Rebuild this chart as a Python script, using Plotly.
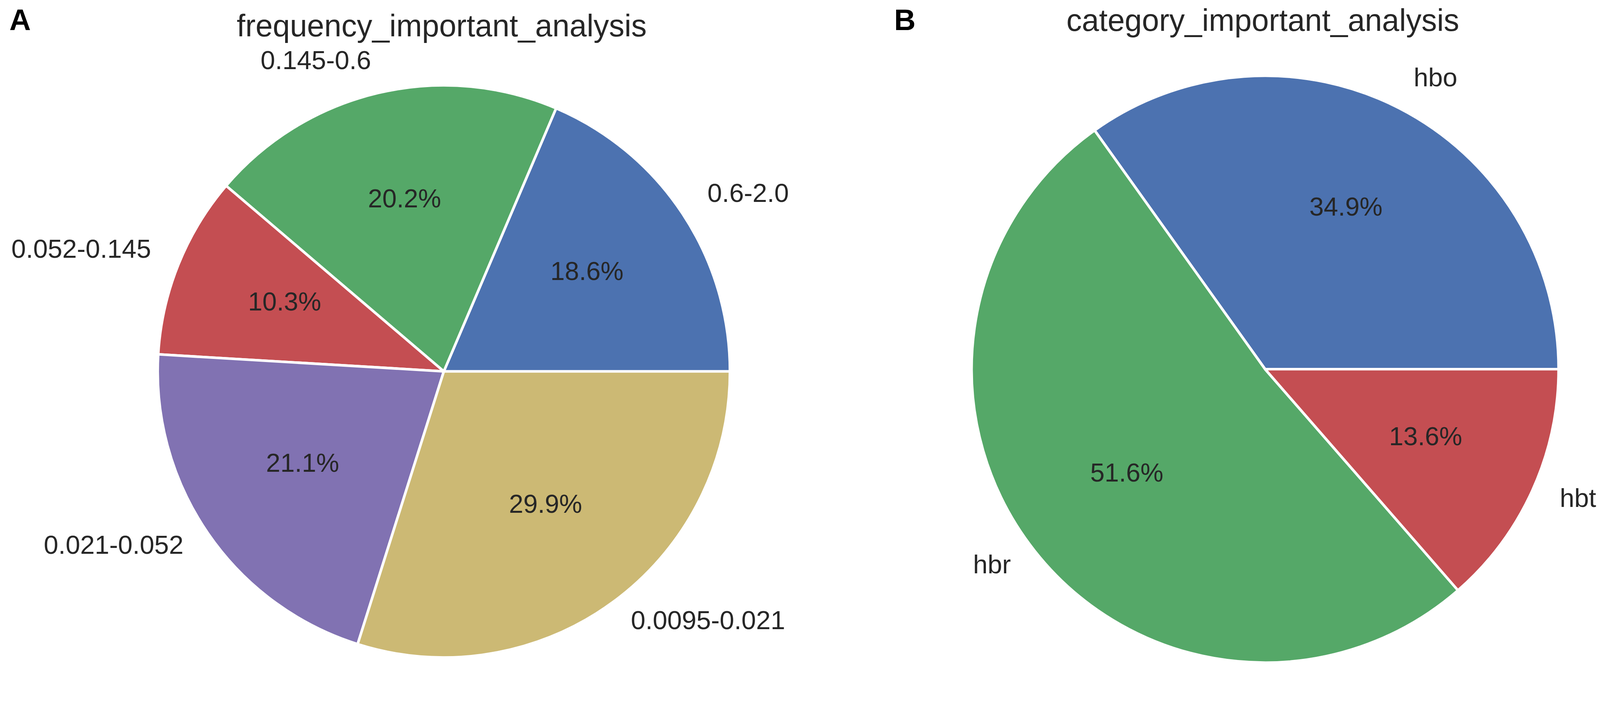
import numpy as np
import plotly.graph_objects as go

# panel A: frequency bands
freq_labels = ["0.6-2.0", "0.145-0.6", "0.052-0.145", "0.021-0.052", "0.0095-0.021"]
freq_values = [18.6, 20.2, 10.3, 21.1, 29.9]

# panel B: categories
cat_labels = ["hbo", "hbr", "hbt"]
cat_values = [34.9, 51.6, 13.6]

# seaborn "deep" colours
DEEP = ["#4C72B0", "#55A868", "#C44E52", "#8172B2", "#CCB974"]

# the page came out ~6% larger than the photo, so lay out in scaled css px
S = 0.944
W, H = 4328, 1818
TEXT = "#262626"
FONT = "Liberation Sans, Arial, sans-serif"

# pie geometry in reference pixels (centre x, centre y from top, radius)
PIES = [
    dict(cx=1195, cy=999, r=776),
    dict(cx=3422, cy=993, r=796),
]

# matplotlib centres the text box a bit above where plotly does
LABEL_LIFT = 14


def px(x):
    return x / W


def py(y):
    return 1 - y / H


def fs(size):
    return round(size * S)


def pie_trace(labels, values, geo, colors):
    vals = np.array(values, dtype=float)
    # plotly anchors the far edge of the first slice when going
    # counterclockwise, so turn it back to start at 3 o'clock
    first = 360 * vals[0] / vals.sum()
    return go.Pie(
        labels=labels,
        values=values,
        sort=False,
        direction="counterclockwise",
        rotation=90 - first,
        marker=dict(colors=colors, line=dict(color="white", width=7 * S)),
        textinfo="none",
        hoverinfo="label+percent",
        showlegend=False,
        domain=dict(
            x=[px(geo["cx"] - geo["r"]), px(geo["cx"] + geo["r"])],
            y=[py(geo["cy"] + geo["r"]), py(geo["cy"] - geo["r"])],
        ),
    )


def pie_annotations(labels, values, geo):
    # matplotlib-style: labels at 1.1 r, percentages at 0.6 r
    vals = np.array(values, dtype=float)
    frac = vals / vals.sum()
    ends = np.cumsum(frac)
    starts = ends - frac
    mids = (starts + ends) / 2 * 2 * np.pi
    anns = []
    for lab, v, a in zip(labels, vals, mids):
        lx = geo["cx"] + 1.1 * geo["r"] * np.cos(a)
        ly = geo["cy"] - 1.1 * geo["r"] * np.sin(a)
        anns.append(dict(
            x=px(lx), y=py(ly), xref="paper", yref="paper",
            text=lab, showarrow=False, yshift=LABEL_LIFT * S,
            xanchor="left" if np.cos(a) > 0 else "right", yanchor="middle",
            font=dict(size=fs(71), color=TEXT, family=FONT),
        ))
        tx = geo["cx"] + 0.6 * geo["r"] * np.cos(a)
        ty = geo["cy"] - 0.6 * geo["r"] * np.sin(a)
        anns.append(dict(
            x=px(tx), y=py(ty), xref="paper", yref="paper",
            text=f"{v:.1f}%", showarrow=False, yshift=(LABEL_LIFT + 2) * S,
            xanchor="center", yanchor="middle",
            font=dict(size=fs(70), color=TEXT, family=FONT),
        ))
    return anns


fig = go.Figure()
fig.add_trace(pie_trace(freq_labels, freq_values, PIES[0], DEEP))
fig.add_trace(pie_trace(cat_labels, cat_values, PIES[1], DEEP[:3]))

annotations = []
annotations += pie_annotations(freq_labels, freq_values, PIES[0])
annotations += pie_annotations(cat_labels, cat_values, PIES[1])

# titles
annotations.append(dict(
    x=px(1189), y=py(61), xref="paper", yref="paper",
    text="frequency_important_analysis", showarrow=False,
    xanchor="center", yanchor="middle",
    font=dict(size=fs(84), color=TEXT, family=FONT),
))
annotations.append(dict(
    x=px(3416), y=py(46), xref="paper", yref="paper",
    text="category_important_analysis", showarrow=False,
    xanchor="center", yanchor="middle",
    font=dict(size=fs(84), color=TEXT, family=FONT),
))

# panel letters
for letter, x in [("A", 15), ("B", 2414)]:
    annotations.append(dict(
        x=px(x), y=py(45), xref="paper", yref="paper",
        text=f"<b>{letter}</b>", showarrow=False,
        xanchor="left", yanchor="middle",
        font=dict(size=fs(80), color="black", family=FONT),
    ))

fig.update_layout(
    width=round(W * S),
    height=round(H * S),
    margin=dict(l=0, r=0, t=0, b=0),
    paper_bgcolor="white",
    plot_bgcolor="white",
    annotations=annotations,
)

fig.write_html("out.html")
